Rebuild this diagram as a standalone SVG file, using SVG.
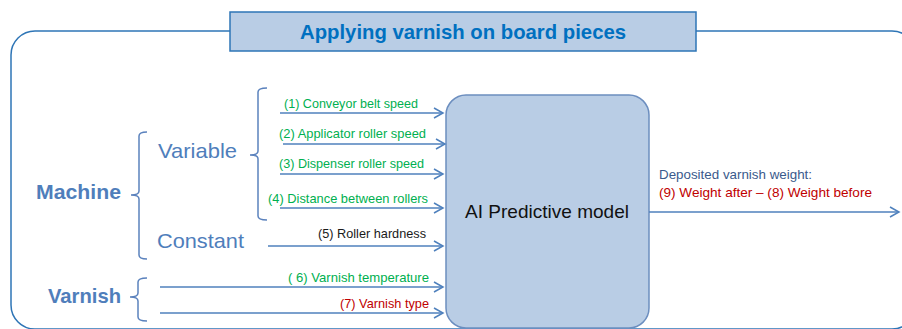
<svg xmlns="http://www.w3.org/2000/svg" width="902" height="329" viewBox="0 0 902 329">
<defs>
<style>
text{font-family:"Liberation Sans",Arial,sans-serif}
.conn{stroke:#4F81BD;stroke-width:1.5;fill:none}
.brace{stroke:#5B82BD;stroke-width:1.5;fill:none}
.in{font-size:13px}
.green{fill:#00B050}
.red{fill:#C00000}
.black{fill:#1a1a1a}
.grp{fill:#4F7EBB;font-size:21px}
.bold{font-weight:bold}
</style>
<marker id="arr" markerUnits="userSpaceOnUse" markerWidth="12" markerHeight="12" refX="10" refY="6" orient="auto">
<path d="M1,1 L10,6 L1,11" fill="none" stroke="#4F81BD" stroke-width="1.5"/>
</marker>
</defs>
<rect width="902" height="329" fill="#ffffff"/>
<g id="frame">
<rect x="11" y="31" width="905" height="298" rx="24" ry="24" fill="none" stroke="#2E75B6" stroke-width="1.5"/>
</g>
<g id="title">
<rect x="230" y="12" width="466" height="39" fill="#B9CDE5" stroke="#2E75B6" stroke-width="1.5"/>
<text x="463" y="39" text-anchor="middle" font-size="21" font-weight="bold" fill="#0070C0" textLength="326" lengthAdjust="spacingAndGlyphs">Applying varnish on board pieces</text>
</g>
<g id="model">
<rect x="446" y="95" width="203" height="233" rx="20" ry="20" fill="#B9CDE5" stroke="#6C8EBF" stroke-width="1.5"/>
<text x="547" y="218" text-anchor="middle" font-size="19" fill="#111" textLength="164" lengthAdjust="spacingAndGlyphs">AI Predictive model</text>
</g>
<g id="machine">
<text x="36" y="199" class="grp bold" textLength="85" lengthAdjust="spacingAndGlyphs">Machine</text>
<path class="brace" d="M147,132 Q139,132 139,136 V191 Q139,195 131,195 Q139,195 139,199 V255 Q139,259 147,259"/>
</g>
<g id="variable">
<text x="158" y="158" class="grp" textLength="79" lengthAdjust="spacingAndGlyphs">Variable</text>
<path class="brace" d="M267,88 Q258,88 258,92 V151 Q258,155 250,155 Q258,155 258,159 V216 Q258,220 267,220"/>
</g>
<g id="constant">
<text x="157" y="248" class="grp" textLength="87" lengthAdjust="spacingAndGlyphs">Constant</text>
</g>
<g id="varnish">
<text x="48" y="303" class="grp bold" textLength="73" lengthAdjust="spacingAndGlyphs">Varnish</text>
<path class="brace" d="M147,278 Q138,278 138,282 V293 Q138,297 130,297 Q138,297 138,301 V317 Q138,321 147,321"/>
</g>
<g id="connectors">
<line class="conn" x1="280" y1="113" x2="443" y2="113" marker-end="url(#arr)"/>
<line class="conn" x1="283" y1="144" x2="445" y2="144" marker-end="url(#arr)"/>
<line class="conn" x1="280" y1="174" x2="443" y2="174" marker-end="url(#arr)"/>
<line class="conn" x1="280" y1="208" x2="443" y2="208" marker-end="url(#arr)"/>
<line class="conn" x1="268" y1="246" x2="443" y2="246" marker-end="url(#arr)"/>
<line class="conn" x1="160" y1="287" x2="443" y2="287" marker-end="url(#arr)"/>
<line class="conn" x1="160" y1="313" x2="443" y2="313" marker-end="url(#arr)"/>
<line class="conn" x1="649" y1="212" x2="899" y2="212" marker-end="url(#arr)"/>
<text x="284" y="108" class="in green" textLength="134" lengthAdjust="spacingAndGlyphs">(1) Conveyor belt speed</text>
<text x="279" y="138" class="in green" textLength="147" lengthAdjust="spacingAndGlyphs">(2) Applicator roller speed</text>
<text x="279" y="168" class="in green" textLength="145" lengthAdjust="spacingAndGlyphs">(3) Dispenser roller speed</text>
<text x="268" y="203" class="in green" textLength="160" lengthAdjust="spacingAndGlyphs">(4) Distance between rollers</text>
<text x="318" y="238" class="in black" textLength="108" lengthAdjust="spacingAndGlyphs">(5) Roller hardness</text>
<text x="288" y="282" class="in green" textLength="141" lengthAdjust="spacingAndGlyphs">( 6) Varnish temperature</text>
<text x="340" y="308" class="in red" textLength="89" lengthAdjust="spacingAndGlyphs">(7) Varnish type</text>
<text x="659" y="179" class="in" fill="#3A5A8C" textLength="153" lengthAdjust="spacingAndGlyphs">Deposited varnish weight:</text>
<text x="659" y="197" class="in red" textLength="213" lengthAdjust="spacingAndGlyphs">(9) Weight after – (8) Weight before</text>
</g>
</svg>
